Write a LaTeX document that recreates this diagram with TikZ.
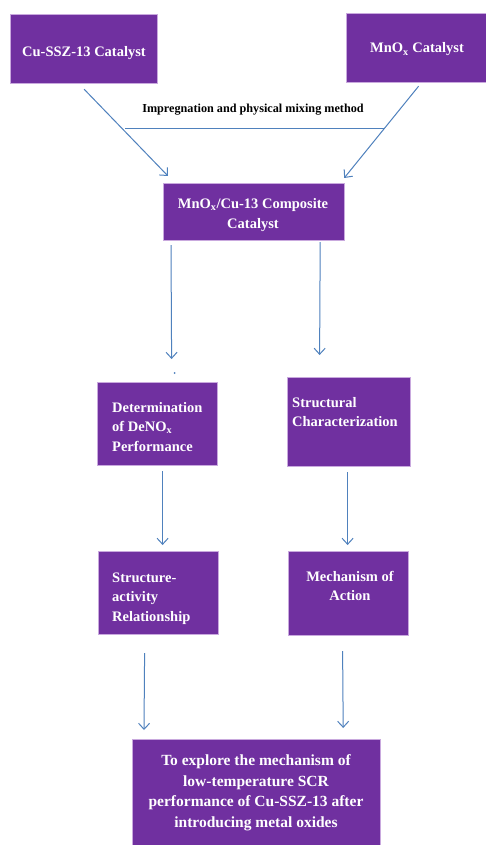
\documentclass[tikz,border=0pt]{standalone}
\usepackage{fontspec}
\setmainfont{Liberation Serif}
\usetikzlibrary{arrows.meta}
\definecolor{boxpurple}{HTML}{7030A0}
\definecolor{glow}{HTML}{C9A9DE}
\definecolor{arrowblue}{HTML}{4F81BD}
\begin{document}
\begin{tikzpicture}[x=1pt,y=-1pt,
  box/.style={fill=boxpurple, draw=glow, line width=1.2pt, inner sep=0pt, anchor=north west},
  lbl/.style={text=white, font=\fontsize{14.5}{19.5}\selectfont\bfseries, inner sep=0pt},
  flow/.style={draw=arrowblue, line width=1pt, -{Straight Barb[length=6pt,width=11pt]}},
  plain/.style={draw=arrowblue, line width=1pt},
]
\useasboundingbox (0,0) rectangle (486,845);
\fill[white] (0,0) rectangle (486,845);

% boxes
\node[box, minimum width=147pt, minimum height=69pt] (cu) at (10,14) {};
\node[box, minimum width=140pt, minimum height=69pt] (mn) at (346,13) {};
\node[box, minimum width=181pt, minimum height=57pt] (comp) at (163,183) {};
\node[box, minimum width=120pt, minimum height=83pt] (det) at (97,382) {};
\node[box, minimum width=123pt, minimum height=89pt] (struc) at (287,377) {};
\node[box, minimum width=120pt, minimum height=83pt] (sar) at (98,551) {};
\node[box, minimum width=120pt, minimum height=84pt] (mech) at (288,551) {};
\node[box, minimum width=248pt, minimum height=120pt] (fin) at (132,739) {};

% texts (multi-line nodes: base = baseline of last line)
\node[lbl, anchor=base] (tcu) at (84,57) {Cu-SSZ-13 Catalyst};
\node[lbl, anchor=base] (tmn) at (417,53) {MnO\textsubscript{x} Catalyst};
\node[lbl, anchor=base, align=center] (tcomp) at (253,228) {MnO\textsubscript{x}/Cu-13 Composite\\Catalyst};
\node[lbl, anchor=base west, align=left] (tdet) at (112,451) {Determination\\of DeNO\textsubscript{x}\\Performance};
\node[lbl, anchor=base west, align=left] (tstruc) at (292,426.5) {Structural\\Characterization};
\node[lbl, anchor=base west, align=left] (tsar) at (112,621) {Structure-\\activity\\Relationship};
\node[lbl, anchor=base, align=center] (tmech) at (350,600.5) {Mechanism of\\Action};
\node[lbl, anchor=base, align=center, font=\fontsize{15.5}{20.7}\selectfont\bfseries] (tfin) at (256,827.5)
  {To explore the mechanism of\\low-temperature SCR\\performance of Cu-SSZ-13 after\\introducing metal oxides};

\node[font=\fontsize{12.2}{14}\selectfont\bfseries, inner sep=0pt] (method) at (253,110) {Impregnation and physical mixing method};

% connectors
\coordinate (hl) at (125,129);
\coordinate (hr) at (385,129);
\draw[plain] (hl) -- (hr);

\draw[flow] ([yshift=-5pt]cu.south) -- ([xshift=5pt,yshift=7pt]comp.north west);
\draw[flow] ([xshift=2pt,yshift=-3pt]mn.south) -- ([xshift=-1pt,yshift=5pt]comp.north east);

\draw[flow] ([xshift=8pt,yshift=-4pt]comp.south west) -- ([xshift=14pt,yshift=23pt]det.north);
\draw[flow] ([xshift=-25pt,yshift=-1pt]comp.south east) -- ([xshift=-29.5pt,yshift=22pt]struc.north);
\fill[arrowblue] ([xshift=17pt,yshift=9pt]det.north) circle (1pt);

\draw[flow] ([xshift=5pt,yshift=-5pt]det.south) -- ([xshift=4pt,yshift=6pt]sar.north);
\draw[flow] ([xshift=-1.5pt,yshift=-5pt]struc.south) -- ([xshift=-1pt,yshift=6pt]mech.north);

\draw[flow] ([xshift=-14pt,yshift=-18pt]sar.south) -- ([xshift=12pt,yshift=9pt]fin.north west);
\draw[flow] ([xshift=-6pt,yshift=-15pt]mech.south) -- ([xshift=-38pt,yshift=11pt]fin.north east);
\end{tikzpicture}
\end{document}
